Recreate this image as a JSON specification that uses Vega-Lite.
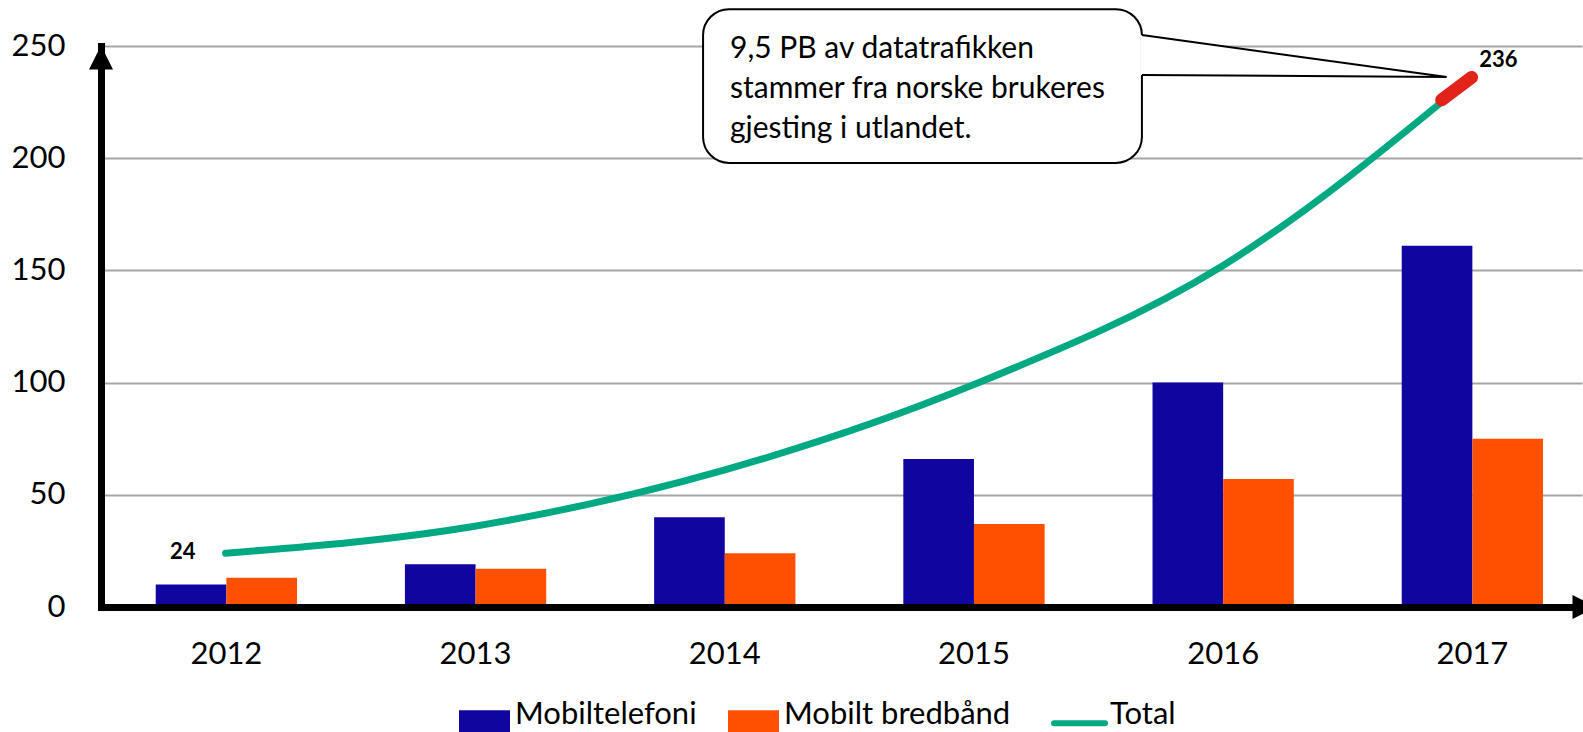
{
  "$schema": "https://vega.github.io/schema/vega-lite/v6.json",
  "width": 1481,
  "height": 561,
  "autosize": {"type": "none"},
  "padding": {"left": 101, "top": 46, "right": 1, "bottom": 125},
  "background": "white",
  "config": {"font": "Lato", "view": {"stroke": null}},
  "datasets": {
    "bars": [
      {"year": "2012", "series": "Mobiltelefoni", "value": 10},
      {"year": "2012", "series": "Mobilt bredbånd", "value": 13},
      {"year": "2013", "series": "Mobiltelefoni", "value": 19},
      {"year": "2013", "series": "Mobilt bredbånd", "value": 17},
      {"year": "2014", "series": "Mobiltelefoni", "value": 40},
      {"year": "2014", "series": "Mobilt bredbånd", "value": 24},
      {"year": "2015", "series": "Mobiltelefoni", "value": 66},
      {"year": "2015", "series": "Mobilt bredbånd", "value": 37},
      {"year": "2016", "series": "Mobiltelefoni", "value": 100},
      {"year": "2016", "series": "Mobilt bredbånd", "value": 57},
      {"year": "2017", "series": "Mobiltelefoni", "value": 161},
      {"year": "2017", "series": "Mobilt bredbånd", "value": 75}
    ],
    "total": [
      {"x": 2012, "v": 24},
      {"x": 2013, "v": 36},
      {"x": 2014, "v": 61},
      {"x": 2015, "v": 99},
      {"x": 2016, "v": 152},
      {"x": 2017, "v": 236}
    ],
    "red": [
      {"x": 2016.88, "v": 226},
      {"x": 2017, "v": 236}
    ],
    "box": [
      {"x": 2013.916, "x2": 2015.677, "v": 197.9, "v2": 266.4}
    ],
    "tailfill": [
      {"x": 2015.671, "v": 254.9, "v2": 237.1},
      {"x": 2016.9, "v": 236.2, "v2": 236.2}
    ],
    "tail": [
      {"i": 0, "x": 2015.677, "v": 254.9},
      {"i": 1, "x": 2016.9, "v": 236.2},
      {"i": 2, "x": 2015.677, "v": 237.1}
    ],
    "note": [
      {"x": 2014.024, "v": 244.5, "label": "9,5 PB av datatrafikken\nstammer fra norske brukeres\ngjesting i utlandet."}
    ],
    "labels": [
      {"x": 2011.828, "v": 24.4, "label": "24"},
      {"x": 2017.107, "v": 243.8, "label": "236"}
    ],
    "yarrow": [{"x": 2011.5, "v": 244.9}],
    "xarrow": [{"x": 2017.453, "v": 0}]
  },
  "layer": [
    {
      "data": {"name": "bars"},
      "mark": {"type": "bar"},
      "encoding": {
        "x": {
          "field": "year", "type": "nominal", "title": null,
          "scale": {"paddingInner": 0.433, "paddingOuter": 0.188, "align": 0.584},
          "axis": {"ticks": false, "tickSize": 0, "domainColor": "black", "domainWidth": 7, "domainCap": "square", "labelFontSize": 31, "labelColor": "black", "labelPadding": 32, "labelAngle": 0, "labelFont": "Lato", "grid": false, "zindex": 1}
        },
        "xOffset": {"field": "series", "type": "nominal", "sort": ["Mobiltelefoni", "Mobilt bredbånd"], "scale": {"paddingInner": 0, "paddingOuter": 0}},
        "y": {
          "field": "value", "type": "quantitative", "title": null,
          "scale": {"domain": [0, 250], "nice": false},
          "axis": {"values": [0, 50, 100, 150, 200, 250], "grid": true, "gridColor": "#a6a6a6", "gridWidth": 2, "ticks": false, "tickSize": 0, "domainColor": "black", "domainWidth": 7, "domainCap": "square", "labelFontSize": 31, "labelColor": "black", "labelPadding": 36, "labelFont": "Lato", "zindex": 0}
        },
        "color": {
          "field": "series", "type": "nominal",
          "scale": {"domain": ["Mobiltelefoni", "Mobilt bredbånd", "Total"], "range": ["#10069f", "#ff5000", "#00a982"]},
          "legend": {
            "orient": "none", "legendX": 368, "legendY": 661, "direction": "horizontal", "columns": 3,
            "title": null, "symbolSize": 2601, "labelFontSize": 31, "labelFont": "Lato", "labelColor": "black",
            "labelOffset": 15, "columnPadding": 31, "padding": 0, "labelLimit": 400,
            "encode": {
              "labels": {
                "update": {"dy": {"value": -8}}
              },
              "symbols": {
                "update": {
                  "shape": {"signal": "datum.value === 'Total' ? 'M-1,0H1' : 'M-1,-0.5H1V0.5H-1Z'"},
                  "fill": {"signal": "datum.value === 'Total' ? 'transparent' : scale('color', datum.value)"},
                  "stroke": {"signal": "datum.value === 'Total' ? scale('color', datum.value) : 'transparent'"},
                  "strokeWidth": {"signal": "datum.value === 'Total' ? 6 : 0"},
                  "strokeCap": {"value": "round"},
                  "opacity": {"value": 1},
                  "fillOpacity": {"value": 1},
                  "strokeOpacity": {"value": 1}
                }
              }
            }
          }
        }
      }
    },
    {
      "encoding": {
        "x": {"field": "x", "type": "quantitative", "scale": {"domain": [2011.5, 2017.443], "nice": false, "zero": false}, "axis": null},
        "y": {"field": "v", "type": "quantitative", "scale": {"domain": [0, 250], "nice": false}, "title": null}
      },
      "layer": [
        {
          "data": {"name": "total"},
          "mark": {"type": "line", "interpolate": "monotone", "strokeWidth": 7, "strokeCap": "round"},
          "encoding": {"color": {"datum": "Total"}}
        },
        {
          "data": {"name": "red"},
          "mark": {"type": "line", "color": "#e2231a", "strokeWidth": 13, "strokeCap": "round"},
          "encoding": {}
        },
        {
          "data": {"name": "box"},
          "mark": {"type": "rect", "fill": "white", "stroke": "black", "strokeWidth": 2, "cornerRadius": 26},
          "encoding": {"x2": {"field": "x2"}, "y2": {"field": "v2"}}
        },
        {
          "data": {"name": "tailfill"},
          "mark": {"type": "area", "fill": "white", "opacity": 1},
          "encoding": {"y2": {"field": "v2"}}
        },
        {
          "data": {"name": "tail"},
          "mark": {"type": "line", "color": "black", "strokeWidth": 2},
          "encoding": {"order": {"field": "i", "type": "quantitative"}}
        },
        {
          "data": {"name": "note"},
          "mark": {"type": "text", "align": "left", "baseline": "alphabetic", "fontSize": 30, "font": "Lato", "color": "black", "lineBreak": "\n", "lineHeight": 40},
          "encoding": {"text": {"field": "label"}}
        },
        {
          "data": {"name": "labels"},
          "mark": {"type": "text", "align": "center", "baseline": "middle", "fontSize": 22, "fontWeight": "bold", "font": "Lato", "color": "black"},
          "encoding": {"text": {"field": "label"}}
        },
        {
          "data": {"name": "yarrow"},
          "mark": {"type": "point", "shape": "M0,-1L1,1L-1,1Z", "size": 576, "filled": true, "color": "black", "opacity": 1}
        },
        {
          "data": {"name": "xarrow"},
          "mark": {"type": "point", "shape": "M1,0L-1,-1L-1,1Z", "size": 576, "filled": true, "color": "black", "opacity": 1}
        }
      ]
    }
  ],
  "resolve": {"scale": {"x": "independent"}, "axis": {"x": "independent"}}
}
